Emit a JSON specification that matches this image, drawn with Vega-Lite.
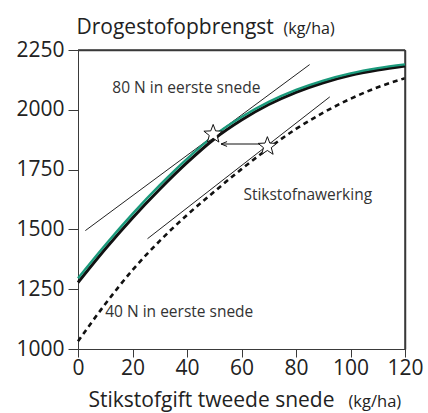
{
  "$schema": "https://vega.github.io/schema/vega-lite/v6.json",
  "width": 327,
  "height": 299,
  "autosize": {"type": "none"},
  "padding": {"left": 78, "top": 50, "right": 23, "bottom": 64},
  "background": "white",
  "view": {"stroke": "#3a3a3a", "strokeWidth": 1, "fill": "white"},
  "config": {
    "font": "Open Sans",
    "axis": {"labelFont": "Open Sans", "titleFont": "Open Sans", "domainColor": "#3a3a3a", "tickColor": "#3a3a3a", "labelColor": "#222222", "titleColor": "#222222", "grid": false, "titleFontWeight": "normal"}
  },
  "datasets": {
    "curves": [
      {"series": "40N", "x": 0, "y": 1032}, {"series": "40N", "x": 10, "y": 1188}, {"series": "40N", "x": 20, "y": 1330},
      {"series": "40N", "x": 30, "y": 1452}, {"series": "40N", "x": 40, "y": 1560}, {"series": "40N", "x": 50, "y": 1658},
      {"series": "40N", "x": 60, "y": 1752}, {"series": "40N", "x": 70, "y": 1840}, {"series": "40N", "x": 80, "y": 1920},
      {"series": "40N", "x": 90, "y": 1988}, {"series": "40N", "x": 100, "y": 2046}, {"series": "40N", "x": 110, "y": 2094},
      {"series": "40N", "x": 120, "y": 2132},
      {"series": "80N_shadow", "x": 0, "y": 1278}, {"series": "80N_shadow", "x": 10, "y": 1418}, {"series": "80N_shadow", "x": 20, "y": 1548},
      {"series": "80N_shadow", "x": 30, "y": 1668}, {"series": "80N_shadow", "x": 40, "y": 1779}, {"series": "80N_shadow", "x": 50, "y": 1878},
      {"series": "80N_shadow", "x": 60, "y": 1957}, {"series": "80N_shadow", "x": 70, "y": 2022}, {"series": "80N_shadow", "x": 80, "y": 2073},
      {"series": "80N_shadow", "x": 90, "y": 2113}, {"series": "80N_shadow", "x": 100, "y": 2144}, {"series": "80N_shadow", "x": 110, "y": 2166},
      {"series": "80N_shadow", "x": 120, "y": 2183},
      {"series": "80N", "x": 0, "y": 1296}, {"series": "80N", "x": 10, "y": 1435}, {"series": "80N", "x": 20, "y": 1565},
      {"series": "80N", "x": 30, "y": 1685}, {"series": "80N", "x": 40, "y": 1795}, {"series": "80N", "x": 50, "y": 1893},
      {"series": "80N", "x": 60, "y": 1970}, {"series": "80N", "x": 70, "y": 2033}, {"series": "80N", "x": 80, "y": 2083},
      {"series": "80N", "x": 90, "y": 2122}, {"series": "80N", "x": 100, "y": 2152}, {"series": "80N", "x": 110, "y": 2174},
      {"series": "80N", "x": 120, "y": 2190}
    ],
    "tangents": [
      {"x": 2.7, "y": 1495, "x2": 85, "y2": 2189},
      {"x": 25.5, "y": 1461, "x2": 92.4, "y2": 2054}
    ],
    "box": [
      {"x": 0, "y": 2250, "x2": 120, "y2": 2250},
      {"x": 120, "y": 1000, "x2": 120, "y2": 2250}
    ],
    "stars": [
      {"x": 49.6, "y": 1898},
      {"x": 69.5, "y": 1847}
    ],
    "arrow": [
      {"x": 52.5, "x2": 67.5, "y": 1857}
    ],
    "arrowhead": [
      {"x": 53.6, "y": 1857}
    ],
    "labels": [
      {"x": 12.6, "y": 2093, "text": "80 N in eerste snede"},
      {"x": 60.7, "y": 1645, "text": "Stikstofnawerking"},
      {"x": 10, "y": 1154, "text": "40 N in eerste snede"}
    ]
  },
  "resolve": {"axis": {"x": "independent", "y": "independent"}},
  "layer": [
    {
      "data": {"name": "tangents"},
      "mark": {"type": "rule", "color": "#222222", "strokeWidth": 1},
      "encoding": {
        "x": {"field": "x", "type": "quantitative", "scale": {"domain": [0, 120], "nice": false, "zero": false},
          "axis": {"orient": "bottom", "values": [0, 20, 40, 60, 80, 100, 120], "format": "d", "tickSize": 8, "labelFontSize": 21, "labelPadding": 0, "labelFlush": false,
            "title": "Stikstofgift tweede snede", "titleFontSize": 21, "titleX": 10, "titleY": 57, "titleAlign": "left", "titleBaseline": "alphabetic"}},
        "y": {"field": "y", "type": "quantitative", "scale": {"domain": [1000, 2250], "nice": false, "zero": false},
          "axis": {"orient": "left", "values": [1000, 1250, 1500, 1750, 2000, 2250], "format": "d", "tickSize": 10, "labelFontSize": 21, "labelPadding": 4,
            "title": "(kg/ha)", "titleFontSize": 16, "titleAngle": 0, "titleX": 205, "titleY": -17, "titleAlign": "left", "titleBaseline": "alphabetic"}},
        "x2": {"field": "x2"},
        "y2": {"field": "y2"}
      }
    },
    {
      "data": {"name": "curves"},
      "transform": [{"filter": "datum.series === '40N'"}],
      "mark": {"type": "line", "color": "#111111", "strokeWidth": 2.6, "strokeDash": [5, 4], "interpolate": "monotone"},
      "encoding": {
        "x": {"field": "x", "type": "quantitative", "scale": {"domain": [0, 120], "nice": false, "zero": false},
          "axis": {"orient": "top", "labels": false, "ticks": false, "domain": true, "domainColor": "#3a3a3a", "domainWidth": 1.5,
            "title": "Drogestofopbrengst", "titleFontSize": 21, "titleX": -2, "titleY": -17, "titleAlign": "left", "titleBaseline": "alphabetic"}},
        "y": {"field": "y", "type": "quantitative", "scale": {"domain": [1000, 2250], "nice": false, "zero": false},
          "axis": {"orient": "right", "labels": false, "ticks": false, "domain": true, "domainColor": "#3a3a3a", "domainWidth": 1.5,
            "title": "(kg/ha)", "titleFontSize": 16.5, "titleAngle": 0, "titleX": -57, "titleY": 356, "titleAlign": "left", "titleBaseline": "alphabetic"}}
      }
    },
    {
      "data": {"name": "box"},
      "mark": {"type": "rule", "color": "#3a3a3a", "strokeWidth": 1.5, "clip": false},
      "encoding": {
        "x": {"field": "x", "type": "quantitative", "axis": null},
        "x2": {"field": "x2"},
        "y": {"field": "y", "type": "quantitative", "axis": null},
        "y2": {"field": "y2"}
      }
    },
    {
      "data": {"name": "curves"},
      "transform": [{"filter": "datum.series === '80N_shadow'"}],
      "mark": {"type": "line", "color": "#111111", "strokeWidth": 3, "interpolate": "monotone"},
      "encoding": {
        "x": {"field": "x", "type": "quantitative", "axis": null},
        "y": {"field": "y", "type": "quantitative", "axis": null}
      }
    },
    {
      "data": {"name": "curves"},
      "transform": [{"filter": "datum.series === '80N'"}],
      "mark": {"type": "line", "color": "#1b9a7c", "strokeWidth": 2.4, "interpolate": "monotone"},
      "encoding": {
        "x": {"field": "x", "type": "quantitative", "axis": null},
        "y": {"field": "y", "type": "quantitative", "axis": null}
      }
    },
    {
      "data": {"name": "arrow"},
      "mark": {"type": "rule", "color": "#111111", "strokeWidth": 1},
      "encoding": {
        "x": {"field": "x", "type": "quantitative", "axis": null},
        "x2": {"field": "x2"},
        "y": {"field": "y", "type": "quantitative", "axis": null}
      }
    },
    {
      "data": {"name": "arrowhead"},
      "mark": {"type": "point", "shape": "M-1,0L1,-0.8M-1,0L1,0.8", "filled": false, "stroke": "#111111", "strokeWidth": 1, "size": 36, "opacity": 1},
      "encoding": {
        "x": {"field": "x", "type": "quantitative", "axis": null},
        "y": {"field": "y", "type": "quantitative", "axis": null}
      }
    },
    {
      "data": {"name": "stars"},
      "mark": {"type": "point", "shape": "M0,-1L0.247,-0.34L0.951,-0.309L0.399,0.13L0.588,0.809L0,0.42L-0.588,0.809L-0.399,0.13L-0.951,-0.309L-0.247,-0.34Z", "filled": true, "fill": "white", "stroke": "#111111", "strokeWidth": 1, "size": 380, "opacity": 1},
      "encoding": {
        "x": {"field": "x", "type": "quantitative", "axis": null},
        "y": {"field": "y", "type": "quantitative", "axis": null}
      }
    },
    {
      "data": {"name": "labels"},
      "mark": {"type": "text", "align": "left", "baseline": "middle", "fontSize": 15.5, "color": "#333333", "font": "Open Sans"},
      "encoding": {
        "x": {"field": "x", "type": "quantitative", "axis": null},
        "y": {"field": "y", "type": "quantitative", "axis": null},
        "text": {"field": "text"}
      }
    }
  ]
}
